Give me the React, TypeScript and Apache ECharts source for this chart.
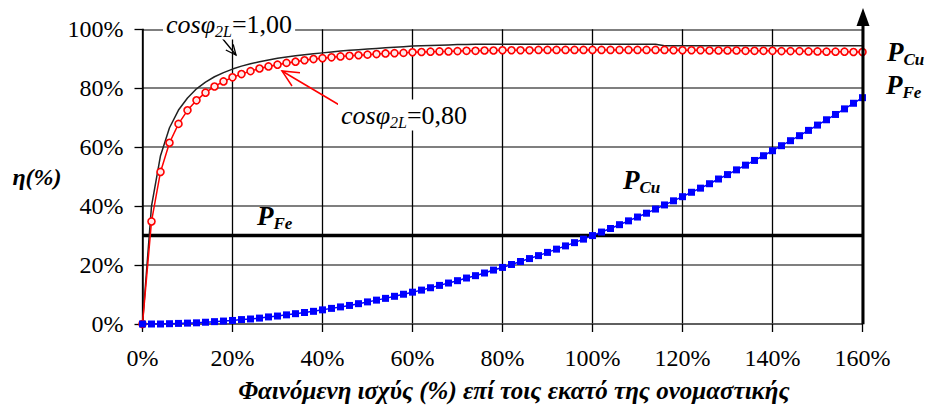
import React, { useEffect, useRef } from "react";
import * as echarts from "echarts";

// Load (% of rated apparent power)
const loadPct = [
  0, 2, 4, 6, 8, 10, 12, 14, 16, 18, 20, 22, 24, 26, 28, 30, 32, 34, 36, 38, 40,
  42, 44, 46, 48, 50, 52, 54, 56, 58, 60, 62, 64, 66, 68, 70, 72, 74, 76, 78, 80,
  82, 84, 86, 88, 90, 92, 94, 96, 98, 100, 102, 104, 106, 108, 110, 112, 114, 116, 118, 120,
  122, 124, 126, 128, 130, 132, 134, 136, 138, 140, 142, 144, 146, 148, 150, 152, 154, 156, 158, 160,
];

// Efficiency at cosφ2L = 0,80 (%)
const effPf080 = [
  0, 34.8, 51.6, 61.5, 67.9, 72.5, 75.9, 78.5, 80.6, 82.3, 83.7,
  84.8, 85.8, 86.7, 87.4, 88.0, 88.6, 89.0, 89.5, 89.9, 90.2,
  90.5, 90.8, 91.0, 91.2, 91.4, 91.6, 91.8, 91.9, 92.0, 92.2,
  92.3, 92.4, 92.5, 92.5, 92.6, 92.7, 92.7, 92.8, 92.8, 92.9,
  92.9, 92.9, 92.9, 93.0, 93.0, 93.0, 93.0, 93.0, 93.0, 93.0,
  93.0, 93.0, 93.0, 93.0, 93.0, 93.0, 93.0, 93.0, 92.9, 92.9,
  92.9, 92.9, 92.8, 92.8, 92.8, 92.8, 92.7, 92.7, 92.7, 92.7,
  92.6, 92.6, 92.6, 92.5, 92.5, 92.4, 92.4, 92.4, 92.3, 92.3,
];

// Efficiency at cosφ2L = 1,00 (%)
const effPf100 = [
  0, 40.0, 57.1, 66.6, 72.6, 76.7, 79.8, 82.1, 83.9, 85.3, 86.5,
  87.5, 88.3, 89.0, 89.6, 90.2, 90.6, 91.0, 91.4, 91.7, 92.0,
  92.3, 92.6, 92.9, 93.1, 93.3, 93.5, 93.7, 93.9, 94.1, 94.3,
  94.4, 94.5, 94.6, 94.7, 94.8, 94.8, 94.9, 94.9, 94.9, 94.9,
  94.9, 94.9, 94.9, 94.9, 94.9, 94.9, 94.9, 94.9, 94.9, 94.9,
  94.9, 94.9, 94.9, 94.9, 94.9, 94.9, 94.9, 94.4, 94.4, 94.4,
  94.4, 94.4, 94.4, 94.4, 94.4, 94.4, 94.4, 94.4, 94.4, 94.4,
  94.4, 94.4, 94.4, 94.4, 94.4, 94.4, 94.4, 94.4, 94.4, 94.4,
];

// Copper losses P_Cu (%)
const copperLoss = [
  0, 0.0, 0.0, 0.1, 0.2, 0.3, 0.4, 0.6, 0.8, 1.0, 1.2,
  1.5, 1.7, 2.0, 2.4, 2.7, 3.1, 3.5, 3.9, 4.3, 4.8,
  5.3, 5.8, 6.3, 6.9, 7.5, 8.1, 8.7, 9.4, 10.1, 10.8,
  11.5, 12.3, 13.1, 13.9, 14.7, 15.6, 16.4, 17.3, 18.3, 19.2,
  20.2, 21.2, 22.2, 23.2, 24.3, 25.4, 26.5, 27.6, 28.8, 30.0,
  31.2, 32.4, 33.7, 35.0, 36.3, 37.6, 39.0, 40.4, 41.8, 43.2,
  44.7, 46.1, 47.6, 49.2, 50.7, 52.3, 53.9, 55.5, 57.1, 58.8,
  60.5, 62.2, 63.9, 65.7, 67.5, 69.3, 71.1, 73.0, 74.9, 76.8,
];

// Iron losses P_Fe (%) – constant
const ironLossX = [0, 160];
const ironLoss = [30, 30];

const xTicks = [0, 20, 40, 60, 80, 100, 120, 140, 160];
const yTicks = [0, 20, 40, 60, 80, 100];

const xTitle = "Φαινόμενη ισχύς (%) επί τοις εκατό της ονομαστικής";
const yTitle = "η(%)";

const FONT = "Liberation Serif, Times New Roman, DejaVu Serif, serif";

const pair = (xs: number[], ys: number[]) => xs.map((x, i) => [x, ys[i]]);

const cosRich = {
  i: { fontFamily: FONT, fontStyle: "italic", fontSize: 26, lineHeight: 31, color: "#1c1c3a" },
  s: { fontFamily: FONT, fontStyle: "italic", fontSize: 16, lineHeight: 16, verticalAlign: "bottom", color: "#1c1c3a" },
  n: { fontFamily: FONT, fontSize: 26, lineHeight: 31, color: "#1c1c3a" },
};

const pRich = {
  p: { fontFamily: FONT, fontStyle: "italic", fontWeight: "bold", fontSize: 27, lineHeight: 31, color: "#000" },
  s: { fontFamily: FONT, fontStyle: "italic", fontWeight: "bold", fontSize: 17, lineHeight: 16, verticalAlign: "bottom", color: "#000" },
};

export default function App() {
  const ref = useRef<HTMLDivElement>(null);

  useEffect(() => {
    if (!ref.current) return;
    const chart = echarts.init(ref.current, null, { renderer: "svg" });

    const option: any = {
      animation: false,
      backgroundColor: "#fff",
      textStyle: { fontFamily: FONT },
      grid: { left: 142.5, right: 66.5, top: 29.3, bottom: 83.7 },
      xAxis: {
        type: "value",
        min: xTicks[0],
        max: xTicks[xTicks.length - 1],
        interval: 20,
        name: xTitle,
        nameLocation: "middle",
        nameGap: 54,
        nameTextStyle: {
          fontFamily: FONT,
          fontSize: 25,
          fontWeight: "bold",
          fontStyle: "italic",
          color: "#000",
          padding: [0, 0, 0, 23],
        },
        axisLine: { show: true, lineStyle: { color: "#555", width: 1.5 } },
        axisTick: { show: true, length: 8, lineStyle: { color: "#000", width: 1.3 } },
        axisLabel: { formatter: "{value}%", fontFamily: FONT, fontSize: 24, color: "#000", margin: 22 },
        splitLine: { show: true, lineStyle: { color: "#000", width: 1.3 } },
      },
      yAxis: {
        type: "value",
        min: yTicks[0],
        max: yTicks[yTicks.length - 1],
        interval: 20,
        name: yTitle,
        nameLocation: "middle",
        nameRotate: 0,
        nameGap: 80,
        nameTextStyle: {
          fontFamily: FONT,
          fontSize: 24,
          fontWeight: "bold",
          fontStyle: "italic",
          color: "#000",
        },
        axisLine: { show: true, lineStyle: { color: "#000", width: 1.5 } },
        axisTick: { show: true, length: 8, lineStyle: { color: "#000", width: 1.3 } },
        axisLabel: { formatter: "{value}%", fontFamily: FONT, fontSize: 24, color: "#000", margin: 19 },
        splitLine: { show: true, lineStyle: { color: "#555", width: 1.5 } },
      },
      series: [
        {
          name: "P_Fe",
          type: "line",
          data: pair(ironLossX, ironLoss),
          symbol: "none",
          lineStyle: { color: "#000", width: 3.5 },
          z: 3,
        },
        {
          name: "cosφ2L=1,00",
          type: "line",
          data: pair(loadPct, effPf100),
          symbol: "none",
          lineStyle: { color: "#222", width: 1.5 },
          z: 4,
        },
        {
          name: "cosφ2L=0,80",
          type: "line",
          data: pair(loadPct, effPf080),
          symbol: "circle",
          symbolSize: 7,
          itemStyle: { color: "#ffe8e8", borderColor: "#ff0000", borderWidth: 1.6 },
          lineStyle: { color: "#ff0000", width: 1.5 },
          z: 5,
        },
        {
          name: "P_Cu",
          type: "line",
          data: pair(loadPct, copperLoss),
          symbol: "rect",
          symbolSize: 7,
          itemStyle: { color: "#0000ff" },
          lineStyle: { color: "#0000ff", width: 1.5 },
          z: 6,
        },
      ],
      graphic: [
        // vertical arrow at 160%
        { type: "line", z: 50, shape: { x1: 863, y1: 324.3, x2: 863, y2: 22 }, style: { stroke: "#000", lineWidth: 3 } },
        { type: "polygon", z: 50, shape: { points: [[863, 8], [856.5, 26], [869.5, 26]] }, style: { fill: "#000" } },
        // black arrow for cos 1,00
        { type: "line", z: 50, shape: { x1: 222, y1: 38, x2: 236, y2: 55 }, style: { stroke: "#000", lineWidth: 1.3 } },
        { type: "polyline", z: 50, shape: { points: [[233.2, 44.4], [236, 55], [225.8, 50]] }, style: { stroke: "#000", lineWidth: 1.3, fill: null } },
        // red arrow for cos 0,80
        { type: "line", z: 50, shape: { x1: 341, y1: 106, x2: 282, y2: 71 }, style: { stroke: "#ff0000", lineWidth: 1.5 } },
        { type: "polyline", z: 50, shape: { points: [[292, 86], [282, 71], [300, 72.8]] }, style: { stroke: "#ff0000", lineWidth: 1.5, fill: null } },
        // labels
        {
          type: "text", z: 60, x: 163, y: 24,
          style: {
            text: "{i|cosφ}{s|2L}{n|=1,00}", rich: cosRich, verticalAlign: "middle",
            backgroundColor: "#fff", padding: [0, 3, 0, 3],
          },
        },
        {
          type: "text", z: 60, x: 338, y: 115,
          style: {
            text: "{i|cosφ}{s|2L}{n|=0,80}", rich: cosRich, verticalAlign: "middle",
            backgroundColor: "#fff", padding: [0, 3, 0, 3],
          },
        },
        { type: "text", z: 60, x: 257, y: 216, style: { text: "{p|P}{s|Fe}", rich: pRich, verticalAlign: "middle" } },
        { type: "text", z: 60, x: 623, y: 180, style: { text: "{p|P}{s|Cu}", rich: pRich, verticalAlign: "middle" } },
        { type: "text", z: 60, x: 887, y: 52, style: { text: "{p|P}{s|Cu}", rich: pRich, verticalAlign: "middle" } },
        { type: "text", z: 60, x: 886, y: 85, style: { text: "{p|P}{s|Fe}", rich: pRich, verticalAlign: "middle" } },
      ],
    };

    chart.setOption(option);
    return () => chart.dispose();
  }, []);

  return (
    <div
      ref={ref}
      style={{ position: "fixed", left: 0, top: 0, width: 929, height: 408, background: "#fff" }}
    />
  );
}
